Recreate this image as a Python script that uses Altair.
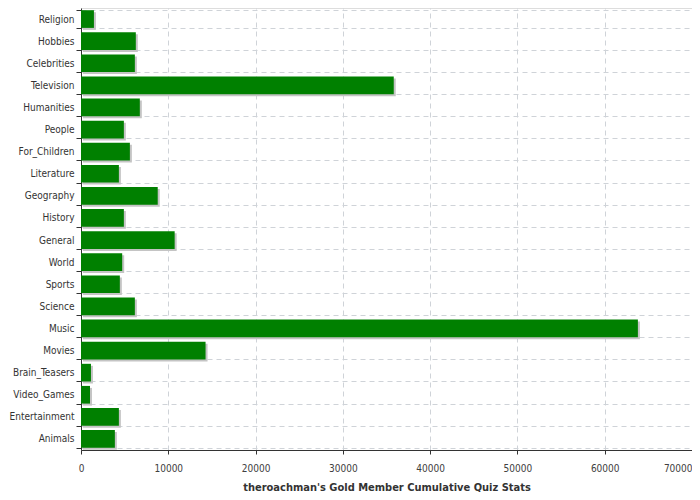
import altair as alt
import pandas as pd

categories = ["Religion", "Hobbies", "Celebrities", "Television", "Humanities", "People",
              "For_Children", "Literature", "Geography", "History", "General", "World",
              "Sports", "Science", "Music", "Movies", "Brain_Teasers", "Video_Games",
              "Entertainment", "Animals"]
values = [1480, 6280, 6170, 35830, 6740, 4910, 5600, 4340, 8790, 4910, 10730, 4720,
          4450, 6170, 63800, 14270, 1140, 1030, 4340, 3880]
x_ticks = [0, 10000, 20000, 30000, 40000, 50000, 60000, 70000]

df = pd.DataFrame({"category": categories, "value": values})

FONT = "DejaVu Sans Condensed"
GRID = "#cfd3d8"

x_enc = alt.X("value:Q",
              scale=alt.Scale(domain=[0, 70000], nice=False, zero=True),
              axis=alt.Axis(values=x_ticks, title="theroachman's Gold Member Cumulative Quiz Stats",
                            format="d", grid=True, gridDash=[5, 4], gridColor=GRID,
                            domainColor="#333333", tickColor="#333333", tickSize=4,
                            labelFont=FONT, labelFontSize=10, labelColor="#404040",
                            labelPadding=9, labelFlush=False,
                            labelAlign={"condition": {"test": "datum.value == 70000", "value": "right"},
                                        "value": "center"},
                            titleFont=FONT, titleFontSize=11, titleFontWeight="bold",
                            titleColor="#333333", titlePadding=8))
y_enc = alt.Y("category:N", sort=categories,
              scale=alt.Scale(paddingInner=0.2, paddingOuter=0.1),
              axis=alt.Axis(title=None, tickBand="extent", grid=True, gridDash=[5, 4],
                            gridColor=GRID, domainColor="#333333", tickColor="#333333",
                            tickSize=5, labelFont=FONT, labelFontSize=10,
                            labelColor="#333333", labelPadding=2))

shadow = alt.Chart(df).mark_bar(color="#c4c4c4", xOffset=2, yOffset=2, y2Offset=2,
                                cornerRadius=0).encode(x=x_enc, y=y_enc)
bars = alt.Chart(df).mark_bar(color="#008000").encode(x=x_enc, y=y_enc)

chart = alt.layer(shadow, bars).properties(
    width=611, height=442,
    autosize=alt.AutoSizeParams(type="none"),
    padding={"left": 73, "top": 0, "right": 0, "bottom": 42},
).configure_view(stroke="#333333", strokeWidth=1).configure(background="white")

chart.save("out.html", embed_options={"renderer": "svg", "actions": False})
